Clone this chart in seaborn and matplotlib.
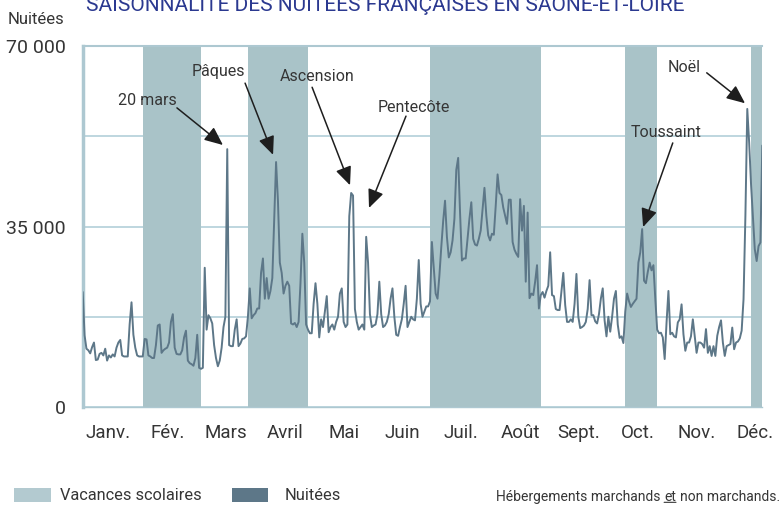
import numpy as np
import matplotlib
matplotlib.use("Agg")
import matplotlib.pyplot as plt
from matplotlib.patches import Rectangle
import seaborn as sns

# -----------------------------
# DATA
# -----------------------------
TITLE = "SAISONNALITÉ DES NUITÉES FRANÇAISES EN SAÔNE-ET-LOIRE"
MONTHS = ["Janv.", "Fév.", "Mars", "Avril", "Mai", "Juin",
          "Juil.", "Août", "Sept.", "Oct.", "Nov.", "Déc."]
Y_TICKS = [0, 17500, 35000, 52500, 70000]
Y_LABELS = ["0", "", "35 000", "", "70 000"]

# daily overnight stays
janv = [22300, 13900, 11300, 11000, 10400, 11600, 12500, 9100, 9200, 10300,
        10500, 10000, 11300, 9000, 10000, 9600, 10200, 9800, 11500, 12500,
        13000, 10000, 9800, 9800, 9800, 16000, 20300, 14000, 11500, 10000, 9800]
fev = [9800, 9800, 13200, 13100, 10000, 9800, 9500, 9500, 12000, 15800,
       16000, 10500, 11000, 11300, 11500, 12500, 16500, 18000, 11500, 10300,
       10200, 10200, 11000, 13500, 14800, 9000, 8500, 8300, 8000, 9500]
mars = [14000, 7600, 7400, 7600, 27000, 15000, 17800, 17200, 16200, 12000,
        9500, 7900, 9000, 11500, 15500, 17500, 50000, 12000, 11800, 11800,
        15000, 17000, 11800, 12300, 13200, 13300, 13700, 17500, 23000, 17200]
avril = [17800, 18200, 19100, 19100, 26000, 28800, 21000, 25000, 21000, 22500,
         25000, 36000, 47500, 40000, 28000, 26000, 22000, 23500, 24300, 23500,
         16200, 16000, 16300, 15500, 16500, 24000, 33600, 28000, 16000, 15000]
mai = [14300, 14300, 20000, 24000, 20000, 13500, 17000, 15500, 18500, 21500,
       14500, 15500, 16000, 15000, 16500, 17500, 22000, 23000, 16500, 15500,
       16000, 37000, 41500, 41000, 19000, 16500, 15000, 15500, 16000, 15000]
juin = [33000, 28000, 18000, 15500, 15800, 16000, 18000, 24300, 18000, 15500,
        15800, 16500, 18000, 21000, 23000, 17500, 14000, 13800, 15500, 17000,
        20000, 23500, 15500, 16500, 17500, 17000, 16800, 21000, 28500, 20000]
juil = [17500, 18500, 19500, 19500, 20500, 32000, 27000, 22000, 21000, 25500,
        31000, 36000, 40000, 33000, 29000, 30000, 32300, 36500, 46000, 48300,
        37700, 28400, 28800, 28800, 32600, 36500, 39700, 32600, 31500, 31300, 32600]
aout = [34200, 38400, 42500, 37100, 33300, 32300, 33600, 33400, 39000, 45100,
        41500, 41100, 38700, 37100, 35500, 40200, 40200, 32000, 30500, 29700,
        29100, 40300, 34200, 39000, 24300, 37700, 21100, 22000, 21700, 24300]
sept = [27500, 19100, 21700, 22300, 21200, 22500, 23500, 30000, 21700, 21500,
        19000, 18800, 18800, 22500, 26000, 19800, 16500, 16500, 17000, 16500,
        20000, 25800, 17500, 15300, 15500, 15800, 16500, 19000, 24600, 17800]
octo = [17800, 16600, 16200, 18000, 21000, 23000, 16800, 13700, 17500, 14600,
        17500, 21000, 22500, 16000, 13400, 13700, 12400, 18500, 22000, 20500,
        19400, 20000, 20500, 21000, 28000, 30000, 34500, 24500, 24000, 26200]
nov = [28000, 26500, 27500, 21000, 15000, 14300, 14400, 13500, 9300, 16400,
       22500, 14100, 14400, 13700, 13500, 16400, 17000, 19900, 14100, 10900,
       12500, 12500, 13700, 17000, 13800, 10500, 12500, 12500, 12200, 11500]
dec = [15100, 10500, 11800, 9900, 11800, 9900, 13800, 15500, 16800, 12500,
       9900, 11800, 12000, 12200, 15400, 11200, 12500, 12700, 13300, 14800,
       20900, 37100, 57800, 51300, 43200, 36800, 30600, 28300, 31200, 31900, 50700]

nuitees = janv + fev + mars + avril + mai + juin + juil + aout + sept + octo + nov + dec
jours = np.arange(len(nuitees))

# school holidays (day index of start / end)
vacances_debut = [32, 88, 185, 289, 356]
vacances_fin = [63, 120, 244, 306, 362]

# annotated events: arrow tip (day, nuitées)
evenements = ["20 mars", "Pâques", "Ascension", "Pentecôte", "Toussaint", "Noël"]
evenement_jour = [74.7, 101.4, 142.4, 152.5, 298.5, 352.8]
evenement_valeur = [50800, 48900, 43000, 38600, 34900, 58900]

# -----------------------------
# STYLE
# -----------------------------
SHADE = "#a9c3c8"
LEGEND_LIGHT = "#b3cad0"
LINE = "#5d7788"
GRID = "#b9d3dc"
SPINE = "#adc8d1"
TEXT = "#353535"
TITLE_COLOR = "#2b3990"
W, H = 779, 505

sns.set_theme(style="white")
plt.rcParams["font.family"] = ["Roboto", "DejaVu Sans"]

fig = plt.figure(figsize=(W / 100, H / 100), dpi=100)
ax = fig.add_axes([82.7 / W, 1 - 407 / H, (762.3 - 82.7) / W, 361 / H])

# holidays shading (drawn over the grid)
for s, e in zip(vacances_debut, vacances_fin):
    ax.axvspan(s, e, color=SHADE, lw=0, zorder=1)

sns.lineplot(x=jours, y=nuitees, ax=ax, color=LINE, linewidth=1.4, zorder=3)

xmax = len(nuitees) - 1
ax.set_xlim(0, xmax)
ax.set_ylim(0, 70000)
ax.set_yticks(Y_TICKS)
ax.set_yticklabels(Y_LABELS)
ax.yaxis.grid(True, color=GRID, lw=1.3)
ax.xaxis.grid(False)
ax.set_axisbelow(True)

ax.set_xticks(np.linspace(0, xmax, 13))
ax.set_xticklabels([])
ax.set_xticks(np.linspace(13.7, 358.2, 12), minor=True)
ax.set_xticklabels(MONTHS, minor=True)
ax.tick_params(axis="x", which="major", direction="out", length=4, width=1, color=SPINE)
ax.tick_params(axis="x", which="minor", length=0, pad=12, labelsize=13.5, labelcolor=TEXT)
ax.tick_params(axis="y", length=0, pad=12, labelsize=14, labelcolor=TEXT)
ax.set_xlabel("")
ax.set_ylabel("")

ax.spines["right"].set_visible(False)
ax.spines["left"].set_color(SPINE)
ax.spines["left"].set_linewidth(2.5)
ax.spines["top"].set_color(SPINE)
ax.spines["top"].set_linewidth(1.5)
ax.spines["bottom"].set_color(SPINE)
ax.spines["bottom"].set_linewidth(1.0)

# event annotations: text centre and arrow tail
label_pos = [(34.5, 59400), (72.3, 65000), (125.0, 64000), (176.2, 58000), (310.5, 53300), (320.6, 65900)]
arrow_tail = [(50.2, 58000), (86.5, 62800), (122.2, 62000), (172.2, 56400), (314.3, 51200), (332.4, 64800)]
for name, xd, yv, (tx, ty), (ax0, ay0) in zip(evenements, evenement_jour, evenement_valeur, label_pos, arrow_tail):
    ax.text(tx, ty, name, ha="center", va="center", fontsize=11.5, color=TEXT, zorder=5)
    ax.annotate("", xy=(xd, yv), xytext=(ax0, ay0),
                arrowprops=dict(arrowstyle="-|>,head_length=0.8,head_width=0.35",
                                mutation_scale=14, color="#1e1e1e", lw=1.1,
                                shrinkA=0, shrinkB=0), zorder=5)

# title (cut at the top edge) and y label
fig.text(385 / W, 1 - 11 / H, TITLE, ha="center", va="baseline", fontsize=15, color=TITLE_COLOR)
fig.text(8 / W, 1 - 20 / H, "Nuitées", ha="left", va="center", fontsize=12, color=TEXT)

# legend
fig.patches.append(Rectangle((14 / W, 1 - 502 / H), 37 / W, 14 / H, transform=fig.transFigure,
                             facecolor=LEGEND_LIGHT, edgecolor="none"))
fig.text(60 / W, 1 - 495 / H, "Vacances scolaires", ha="left", va="center", fontsize=11.8, color=TEXT)
fig.patches.append(Rectangle((232 / W, 1 - 502 / H), 36 / W, 14 / H, transform=fig.transFigure,
                             facecolor=LINE, edgecolor="none"))
fig.text(285 / W, 1 - 495 / H, "Nuitées", ha="left", va="center", fontsize=11.8, color=TEXT)

# source note with underlined "et"
t1 = fig.text(496 / W, 1 - 504 / H, "Hébergements marchands", ha="left", va="bottom", fontsize=10, color=TEXT)
t2 = ax.annotate("et", xy=(1, 0), xycoords=t1, xytext=(2.6, 0), textcoords="offset points",
                 ha="left", va="bottom", fontsize=10, color=TEXT, annotation_clip=False)
ax.annotate("non marchands.", xy=(1, 0), xycoords=t2, xytext=(2.6, 0), textcoords="offset points",
            ha="left", va="bottom", fontsize=10, color=TEXT, annotation_clip=False)
ax.annotate("", xy=(0, 0.12), xycoords=t2, xytext=(1, 0.12), textcoords=t2,
            arrowprops=dict(arrowstyle="-", lw=0.8, color=TEXT, shrinkA=0, shrinkB=0),
            annotation_clip=False)

fig.savefig("out.png", dpi=100)
